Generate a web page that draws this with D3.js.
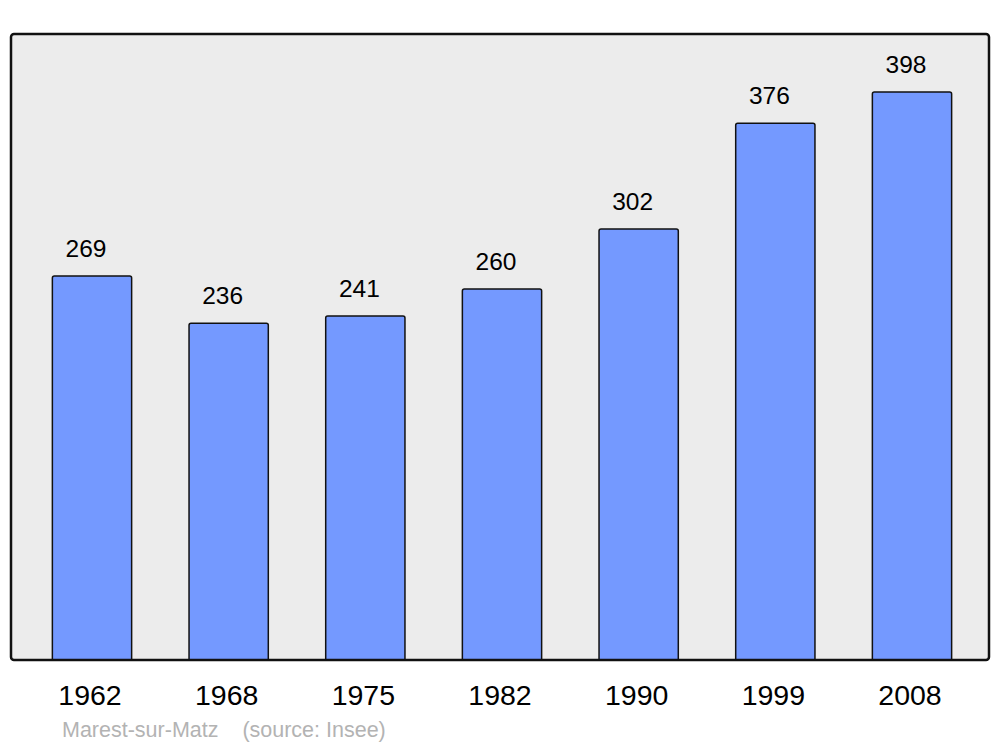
<!DOCTYPE html>
<html>
<head>
<meta charset="utf-8">
<script src="https://cdn.jsdelivr.net/npm/d3@7"></script>
<style>
  html, body { margin: 0; padding: 0; background: #ffffff; }
  svg { display: block; }
  text { font-family: "Liberation Sans", Arial, sans-serif; }
</style>
</head>
<body>
<script>
const years = ["1962", "1968", "1975", "1982", "1990", "1999", "2008"];
const population = [269, 236, 241, 260, 302, 376, 398];
const caption = "Marest-sur-Matz    (source: Insee)";

const W = 1000, H = 747;
const panel = { x0: 11, y0: 34, x1: 989, y1: 660 };

const svg = d3.select("body").append("svg")
  .attr("width", W).attr("height", H);

svg.append("rect")
  .attr("x", panel.x0).attr("y", panel.y0)
  .attr("width", panel.x1 - panel.x0).attr("height", panel.y1 - panel.y0)
  .attr("rx", 3).attr("ry", 3)
  .attr("fill", "#ececec");

const x = d3.scaleBand()
  .domain(years)
  .range([23.67, 980.33])
  .paddingInner(0.42)
  .paddingOuter(0.21);

const y = d3.scaleLinear()
  .domain([0, 438.6])
  .range([panel.y1, panel.y0]);

const data = years.map((yr, i) => ({ year: yr, value: population[i] }));

function barPath(d) {
  const x0 = x(d.year), x1 = x0 + x.bandwidth();
  const yt = y(d.value), yb = y(0);
  const r = 2;
  return `M${x0},${yb} L${x0},${yt + r} Q${x0},${yt} ${x0 + r},${yt} L${x1 - r},${yt} Q${x1},${yt} ${x1},${yt + r} L${x1},${yb}`;
}

svg.append("g").selectAll("path")
  .data(data).join("path")
  .attr("d", barPath)
  .attr("fill", "#7499ff")
  .attr("stroke", "#111")
  .attr("stroke-width", 1.5);

// panel border on top
svg.append("rect")
  .attr("x", panel.x0).attr("y", panel.y0)
  .attr("width", panel.x1 - panel.x0).attr("height", panel.y1 - panel.y0)
  .attr("rx", 3).attr("ry", 3)
  .attr("fill", "none")
  .attr("stroke", "#111").attr("stroke-width", 2.5);

// value labels
svg.append("g").selectAll("text")
  .data(data).join("text")
  .attr("x", d => x(d.year) + x.bandwidth() / 2 - 6)
  .attr("y", d => y(d.value) - 19)
  .attr("text-anchor", "middle")
  .attr("font-size", 24.5)
  .attr("fill", "#000")
  .text(d => d.value);

// x axis labels
const xAxis = d3.axisBottom(x).tickSize(0).tickPadding(0);
const ax = svg.append("g")
  .attr("transform", `translate(-2, ${panel.y1})`)
  .call(xAxis);
ax.select(".domain").remove();
ax.selectAll("text")
  .attr("dy", null)
  .attr("y", 45)
  .attr("font-size", 28.5)
  .attr("font-family", "'Liberation Sans', Arial, sans-serif")
  .attr("fill", "#000");

svg.append("text")
  .attr("x", 62).attr("y", 737)
  .attr("font-size", 21.5)
  .attr("fill", "#b3b3b3")
  .attr("xml:space", "preserve")
  .style("white-space", "pre")
  .text(caption);
</script>
</body>
</html>
